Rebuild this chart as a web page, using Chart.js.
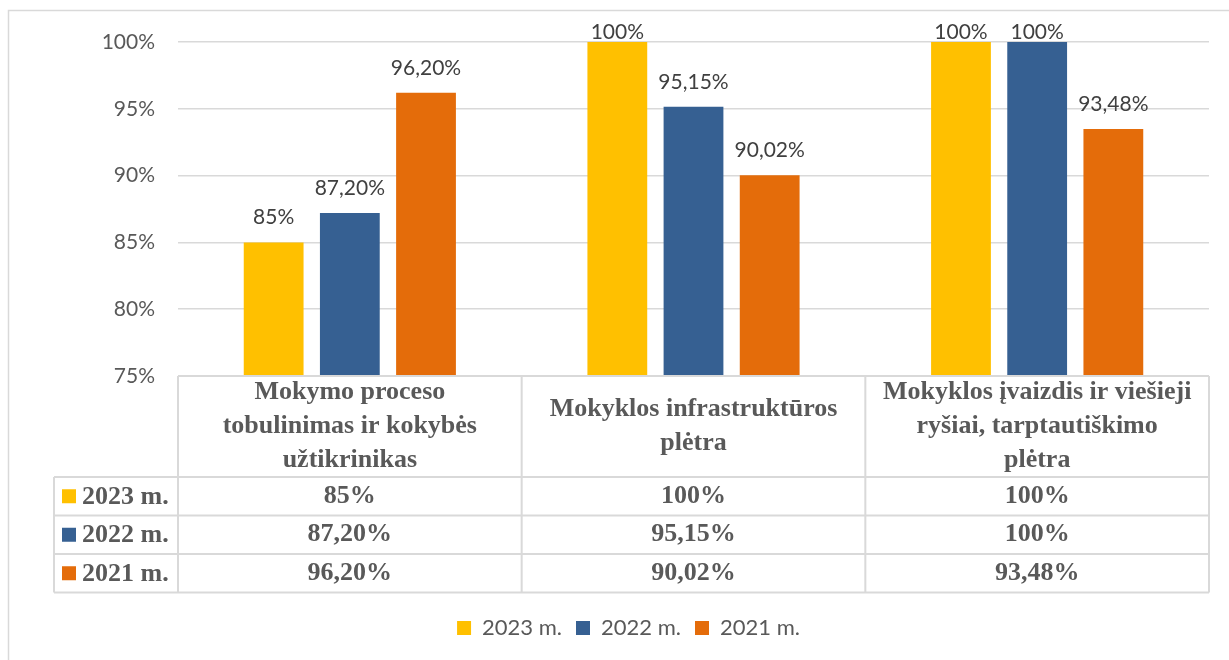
<!DOCTYPE html>
<html>
<head>
<meta charset="utf-8">
<script src="https://cdn.jsdelivr.net/npm/chart.js@4.4.1/dist/chart.umd.min.js"></script>
<style>
  body { margin: 0; background: #fff; }
</style>
</head>
<body>
<canvas id="barChart" width="1229" height="660"></canvas>
<script>
// kategorijos (eilutėmis, kaip lentelėje)
var categories = [
  ["Mokymo proceso", "tobulinimas ir kokybės", "užtikrinikas"],
  ["Mokyklos infrastruktūros", "plėtra"],
  ["Mokyklos įvaizdis ir viešieji", "ryšiai, tarptautiškimo", "plėtra"]
];
var seriesNames = ["2023 m.", "2022 m.", "2021 m."];
var values2023 = [85, 100, 100];
var values2022 = [87.2, 95.15, 100];
var values2021 = [96.2, 90.02, 93.48];
var yTicks = [75, 80, 85, 90, 95, 100];
var barColors = ["#FFC000", "#366092", "#E46C0A"];

// 96.2 -> "96,20%", 85 -> "85%"
function fmt(v) {
  if (Math.round(v) === v) return v + "%";
  return v.toFixed(2).replace(".", ",") + "%";
}

var sansFont = "Lato, 'Open Sans', sans-serif";
var serifFont = "'Liberation Serif', 'Times New Roman', serif";

var frame = {
  id: "frame",
  beforeDraw: function (chart) {
    var ctx = chart.ctx;
    ctx.save();
    ctx.strokeStyle = "#d9d9d9";
    ctx.lineWidth = 1.5;
    ctx.strokeRect(8.5, 10.5, 1300, 700);
    ctx.restore();
  }
};

var valueLabels = {
  id: "valueLabels",
  afterDatasetsDraw: function (chart) {
    var ctx = chart.ctx;
    ctx.save();
    ctx.font = "21px " + sansFont;
    ctx.fillStyle = "#404040";
    ctx.textAlign = "center";
    ctx.textBaseline = "middle";
    chart.data.datasets.forEach(function (ds, i) {
      chart.getDatasetMeta(i).data.forEach(function (bar, j) {
        var y = Math.max(bar.y - 25, chart.chartArea.top - 10);
        ctx.fillText(fmt(ds.data[j]), bar.x, y);
      });
    });
    ctx.restore();
  }
};

// duomenų lentelė po ašimi
var dataTable = {
  id: "dataTable",
  afterDraw: function (chart) {
    var ctx = chart.ctx;
    var area = chart.chartArea;
    var xs = chart.scales.x;
    var n = chart.data.labels.length;
    var colW = (area.right - area.left) / n;
    var top = area.bottom;
    var headH = 101, rowH = 38.5;
    var leftX = 54;
    var rowsTop = top + headH;
    var bottom = rowsTop + rowH * chart.data.datasets.length;

    ctx.save();
    ctx.strokeStyle = "#d9d9d9";
    ctx.lineWidth = 2;
    ctx.beginPath();
    // horizontalios
    ctx.moveTo(area.left, top); ctx.lineTo(area.right, top);
    for (var r = 0; r <= chart.data.datasets.length; r++) {
      ctx.moveTo(leftX, rowsTop + r * rowH);
      ctx.lineTo(area.right, rowsTop + r * rowH);
    }
    // vertikalios
    ctx.moveTo(leftX, rowsTop); ctx.lineTo(leftX, bottom);
    for (var c = 0; c <= n; c++) {
      ctx.moveTo(area.left + c * colW, top);
      ctx.lineTo(area.left + c * colW, bottom);
    }
    ctx.stroke();

    ctx.fillStyle = "#595959";
    ctx.textAlign = "center";
    ctx.textBaseline = "middle";
    ctx.font = "bold 26px " + serifFont;
    chart.data.labels.forEach(function (lines, i) {
      var cx = xs.getPixelForValue(i);
      var lh = 34;
      var y0 = top + headH / 2 - (lines.length - 1) * lh / 2;
      lines.forEach(function (t, k) {
        ctx.fillText(t, cx, y0 + k * lh);
      });
    });

    chart.data.datasets.forEach(function (ds, r) {
      var cy = rowsTop + r * rowH + rowH / 2;
      ds.data.forEach(function (v, i) {
        ctx.fillText(fmt(v), xs.getPixelForValue(i), cy);
      });
      ctx.fillStyle = ds.backgroundColor;
      ctx.fillRect(62, cy - 7, 14, 14);
      ctx.fillStyle = "#595959";
      ctx.textAlign = "left";
      ctx.fillText(ds.label, 82, cy + 1);
      ctx.textAlign = "center";
    });
    ctx.restore();
  }
};

new Chart(document.getElementById("barChart"), {
  type: "bar",
  data: {
    labels: categories,
    datasets: [
      { label: seriesNames[0], data: values2023, backgroundColor: barColors[0] },
      { label: seriesNames[1], data: values2022, backgroundColor: barColors[1] },
      { label: seriesNames[2], data: values2021, backgroundColor: barColors[2] }
    ]
  },
  options: {
    responsive: false,
    animation: false,
    devicePixelRatio: 1,
    layout: { padding: { top: 42, right: 20, bottom: 11, left: 48 } },
    datasets: { bar: { categoryPercentage: 0.665, barPercentage: 0.785 } },
    scales: {
      x: {
        grid: { display: false },
        border: { display: false },
        ticks: { display: false },
        afterFit: function (s) { s.height = 227; }
      },
      y: {
        min: 75,
        max: 100,
        afterFit: function (s) { s.width = 130; },
        afterBuildTicks: function (s) {
          s.ticks = yTicks.map(function (v) { return { value: v }; });
        },
        grid: { color: "#d9d9d9", lineWidth: 1.5, drawTicks: false },
        border: { display: false },
        ticks: {
          padding: 23,
          color: "#595959",
          font: { family: sansFont, size: 21 },
          callback: function (v) { return v + "%"; }
        }
      }
    },
    plugins: {
      legend: {
        position: "bottom",
        labels: {
          boxWidth: 14,
          boxHeight: 14,
          padding: 14,
          color: "#595959",
          font: { family: sansFont, size: 22 }
        }
      },
      tooltip: { enabled: false }
    }
  },
  plugins: [frame, valueLabels, dataTable]
});
</script>
</body>
</html>
